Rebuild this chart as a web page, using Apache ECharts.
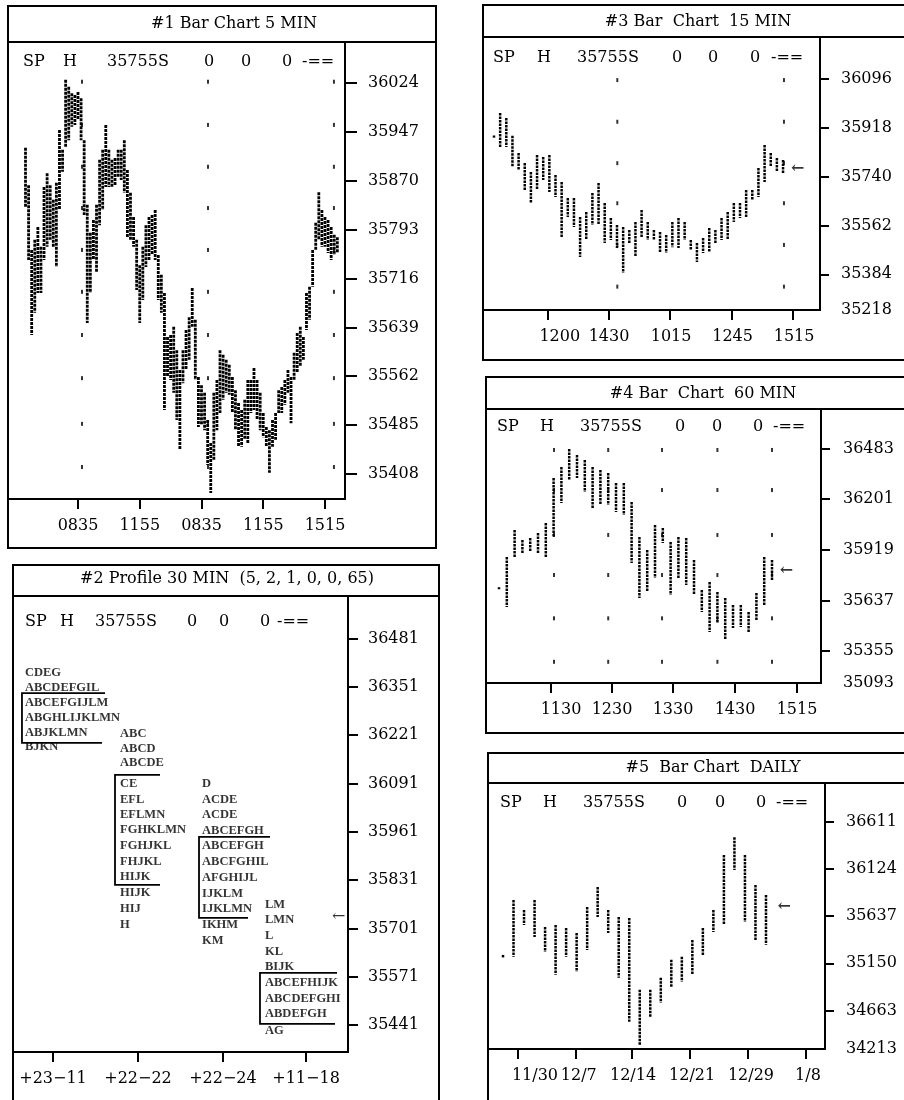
<!DOCTYPE html>
<html><head><meta charset="utf-8">
<script src="https://cdn.jsdelivr.net/npm/echarts@6.0.0/dist/echarts.min.js"></script>
<style>html,body{margin:0;padding:0;background:#fff}#c{width:904px;height:1100px}</style>
</head><body><div id="c"></div>
<script>
// ---------------- DATA ----------------
const titles = ['#1 Bar Chart 5 MIN', '#2 Profile 30 MIN  (5, 2, 1, 0, 0, 65)', '#3 Bar  Chart  15 MIN', '#4 Bar  Chart  60 MIN', '#5  Bar Chart  DAILY'];
const headerTokens = ['SP', 'H', '35755S', '0', '0', '0', '-=='];

// Panel 1: 5-min bars (each drawn bar = two 5-min bars)
const p1FirstBar = 6;
const p1High = [35922,35863,35761,35777,35797,35766,35860,35882,35863,35840,
  35867,35950,35919,36029,36018,36008,36005,36010,36000,35934,
  35832,35788,35808,35832,35903,35919,35958,35919,35903,35906,
  35919,35919,35934,35887,35851,35813,35777,35737,35766,35800,
  35813,35816,35824,35753,35722,35693,35624,35627,35640,35603,
  35572,35603,35635,35655,35701,35651,35561,35548,35536,35493,
  35457,35536,35556,35603,35596,35588,35580,35561,35540,35520,
  35509,35525,35556,35556,35575,35556,35536,35504,35482,35477,
  35493,35504,35540,35545,35556,35572,35561,35599,35630,35640,
  35624,35693,35703,35761,35804,35852,35824,35813,35808,35797,
  35785,35781];
const p1Low = [35829,35745,35627,35662,35693,35693,35745,35766,35777,35766,
  35734,35824,35884,35923,35934,35955,35958,35966,35934,35816,
  35646,35693,35745,35725,35800,35824,35860,35860,35860,35863,
  35876,35871,35851,35781,35777,35766,35698,35646,35682,35734,
  35745,35753,35745,35682,35662,35509,35561,35556,35536,35493,
  35446,35551,35572,35588,35640,35556,35482,35485,35477,35422,
  35378,35430,35477,35504,35525,35536,35533,35504,35477,35451,
  35451,35462,35457,35504,35509,35493,35477,35466,35451,35410,
  35451,35462,35504,35504,35517,35536,35488,35556,35567,35577,
  35588,35635,35651,35703,35761,35777,35766,35766,35756,35745,
  35753,35756];
const p1XTicks = [23, 43, 63, 83, 103];
const p1XLabelPos = [23, 43, 63, 83, 103];
const p1XLabels = ['0835', '1155', '0835', '1155', '1515'];
const p1YTicks = [36024, 35947, 35870, 35793, 35716, 35639, 35562, 35485, 35408];
const p1DotCols = [24.3, 65.1, 105.9];
const p1DotRows = [36026, 35958, 35892, 35827, 35761, 35695, 35627, 35559, 35487, 35419];

// Panel 2: 30-min market profile
const p2XTicks = [4.78, 14.93, 25.07, 34.99];
const p2XLabelPos = [4.78, 14.93, 25.07, 34.99];
const p2XLabels = ['+23\u221211', '+22\u221222', '+22\u221224', '+11\u221218'];
const p2YTicks = [36481, 36351, 36221, 36091, 35961, 35831, 35701, 35571, 35441];
const p2ColX = [1.43, 12.78, 22.57, 30.09];
const p2Col1 = [[36388,'CDEG'],[36348,'ABCDEFGIL'],[36307,'ABCEFGIJLM'],[36267,'ABGHLIJKLMN'],[36226,'ABJKLMN'],[36189,'BJKN']];
const p2Col2 = [[36224,'ABC'],[36183,'ABCD'],[36146,'ABCDE'],[36089,'CE'],[36046,'EFL'],[36006,'EFLMN'],[35966,'FGHKLMN'],[35923,'FGHJKL'],[35879,'FHJKL'],[35839,'HIJK'],[35796,'HIJK'],[35753,'HIJ'],[35710,'H']];
const p2Col3 = [[36089,'D'],[36046,'ACDE'],[36006,'ACDE'],[35963,'ABCEFGH'],[35923,'ABCEFGH'],[35879,'ABCFGHIL'],[35836,'AFGHIJL'],[35793,'IJKLM'],[35753,'IJKLMN'],[35710,'IKHM'],[35667,'KM']];
const p2Col4 = [[35764,'LM'],[35723,'LMN'],[35680,'L'],[35637,'KL'],[35597,'BIJK'],[35554,'ABCEFHIJK'],[35511,'ABCDEFGHI'],[35471,'ABDEFGH'],[35425,'AG']];
// value-area brackets: [xLeft, xTopRight, xBottomRight, priceTop, priceBottom]
const p2Brackets = [[1.07,10.99,10.63,36334,36200],[12.18,17.55,17.55,36114,35818],[22.21,30.69,28.06,35947,35729],[29.49,38.69,38.45,35581,35444]];
const p2Arrow = [38.09, 35732];

// Panel 3: 15-min bars
const p3High = [35890,35972,35954,35889,35826,35790,35757,35819,35812,35819,
  35746,35720,35662,35662,35593,35611,35680,35717,35644,35589,
  35564,35556,35545,35575,35618,35575,35545,35538,35527,35575,
  35589,35575,35509,35498,35516,35553,35545,35589,35611,35644,
  35644,35691,35691,35771,35855,35826,35808,35801];
const p3Low = [35882,35848,35848,35775,35764,35691,35644,35691,35728,35684,
  35666,35516,35593,35556,35447,35509,35564,35564,35498,35509,
  35480,35389,35498,35447,35520,35509,35509,35465,35462,35483,
  35480,35509,35472,35429,35462,35465,35498,35509,35509,35575,
  35589,35589,35655,35666,35720,35775,35757,35753];
const p3XTicks = [9.8, 19.6, 29.6, 39.7, 49.6];
const p3XLabelPos = [11.7, 19.7, 29.8, 39.8, 49.8];
const p3XLabels = ['1200', '1430', '1015', '1245', '1515'];
const p3YTicks = [36096, 35918, 35740, 35562, 35384];
const p3BottomLabel = '35218';
const p3DotCols = [21.05, 48.15];
const p3DotRows = [36092, 35940, 35789, 35643, 35491, 35339];
const p3Arrow = [49.3, 35770];

// Panel 4: 60-min bars
const p4High = [35710,35878,36028,35973,35984,36012,36067,36318,36379,36479,
  36446,36418,36379,36362,36346,36290,36290,36184,35989,35917,
  36056,36040,35962,35989,35984,35862,35695,35739,35684,35650,
  35611,35611,35572,35678,35878,35862];
const p4Low = [35702,35600,35873,35900,35906,35900,35878,35989,36179,36307,
  36318,36240,36151,36168,36168,36129,36112,35845,35650,35684,
  35761,35956,35667,35761,35722,35667,35572,35461,35511,35416,
  35483,35489,35455,35528,35611,35750];
const p4XTicks = [7.67, 15.49, 23.31, 31.26, 39.21];
const p4XLabelPos = [8.95, 15.49, 23.31, 31.26, 39.21];
const p4XLabels = ['1130', '1230', '1330', '1430', '1515'];
const p4YTicks = [36483, 36201, 35919, 35637, 35355];
const p4BottomLabel = '35093';
const p4DotCols = [8.05, 15.0, 21.9, 29.0, 36.0];
const p4DotRows = [36474, 36251, 36001, 35778, 35537, 35295];
const p4Arrow = [37.0, 35800];

// Panel 5: daily bars
const p5High = [35237,35804,35701,35804,35526,35546,35515,35464,35732,35938,
  35701,35629,35619,34876,34876,35000,35186,35217,35392,35515,
  35701,36268,36453,36268,35959,35856];
const p5Low = [35206,35217,35546,35423,35268,35031,35217,35062,35289,35629,
  35464,35000,34546,34309,34598,34742,34897,34959,35031,35237,
  35474,35546,36113,35577,35392,35341];
const p5XTicks = [2.43, 7.94, 13.26, 18.78, 24.29, 29.8];
const p5XLabelPos = [4.04, 8.2, 13.36, 18.98, 24.57, 29.99];
const p5XLabels = ['11/30', '12/7', '12/14', '12/21', '12/29', '1/8'];
const p5YTicks = [36611, 36124, 35637, 35150, 34663];
const p5BottomLabel = '34213';
const p5Arrow = [27.1, 35732];

// ---------------- LAYOUT ----------------
const FONT = '"DejaVu Serif", "Liberation Serif", serif';
const LETTER_FONT = '"Liberation Serif", "DejaVu Serif", serif';
const panels = [
  {box:[8,6,428,542], lineY:42, tcx:234, tcy:24, grid:[8,42,337,457], hy:62, hx:[23,63,107,204,241,282,302],
   x:[0.33,109.48], y:[35368.6,36088.6]},
  {box:[13,565,426,545], lineY:596, tcx:227, tcy:579, grid:[13,596,335,456], hy:622, hx:[25,60,95,187,219,260,277],
   x:[0,40], y:[35368.4,36595]},
  {box:[483,5,440,355], lineY:37, tcx:698, tcy:22, grid:[483,37,337,273], hy:58, hx:[493,537,577,672,708,750,771],
   x:[-0.789,54.01], y:[35253.8,36249]},
  {box:[486,377,440,356], lineY:409, tcx:703, tcy:394, grid:[486,409,335,274], hy:427, hx:[497,540,580,675,712,753,773],
   x:[-0.667,42.28], y:[35177,36702]},
  {box:[488,753,440,360], lineY:783, tcx:713, tcy:768, grid:[488,783,337,266], hy:803, hx:[500,543,583,677,715,756,776],
   x:[-0.426,31.61], y:[34265,37013]}
];

function nearestLabel(v, vals, texts) {
  for (let i = 0; i < vals.length; i++) if (Math.abs(vals[i] - v) < 1e-3) return texts[i];
  return '';
}

const graphic = [];
panels.forEach((p, i) => {
  graphic.push({type:'rect', shape:{x:p.box[0], y:p.box[1], width:p.box[2], height:p.box[3]}, style:{fill:'none', stroke:'#000', lineWidth:2}, z:100});
  graphic.push({type:'line', shape:{x1:p.box[0], y1:p.lineY, x2:p.box[0]+p.box[2], y2:p.lineY}, style:{stroke:'#000', lineWidth:2}, z:100});
  graphic.push({type:'text', x:p.tcx, y:p.tcy, style:{text:titles[i], font:'16px ' + FONT, fill:'#000', textAlign:'center', textVerticalAlign:'middle'}, z:100});
  headerTokens.forEach((t, j) => {
    graphic.push({type:'text', x:p.hx[j], y:p.hy, style:{text:t, font:'16px ' + FONT, fill:'#000', textAlign:'left', textVerticalAlign:'middle'}, z:100});
  });
});

const grids = panels.map(p => ({left:p.grid[0], top:p.grid[1], width:p.grid[2], height:p.grid[3], show:true, borderColor:'#000', borderWidth:2, backgroundColor:'transparent', containLabel:false}));

function xAxisCfg(i, ticks, labelPos, labels) {
  const p = panels[i];
  return {type:'value', gridIndex:i, position:'bottom', min:p.x[0], max:p.x[1], splitLine:{show:false},
    axisLine:{show:false, onZero:false},
    axisTick:{show:true, inside:false, length:10, lineStyle:{color:'#000', width:2}, customValues:ticks},
    axisLabel:{show:true, margin:19, color:'#000', fontFamily:FONT, fontSize:16, customValues:labelPos, showMinLabel:true, showMaxLabel:true,
      formatter:v => nearestLabel(v, labelPos, labels)}};
}
function yAxisCfg(i, ticks, bottomLabel, tickLen, margin) {
  const p = panels[i];
  const vals = ticks.slice(); const texts = ticks.map(String);
  if (bottomLabel) { vals.push(p.y[0]); texts.push(bottomLabel); }
  return {type:'value', gridIndex:i, position:'right', min:p.y[0], max:p.y[1], splitLine:{show:false},
    axisLine:{show:true, onZero:false, lineStyle:{color:'#000', width:2}},
    axisTick:{show:true, inside:false, length:tickLen, lineStyle:{color:'#000', width:2}, customValues:ticks},
    axisLabel:{show:true, margin:margin, color:'#000', fontFamily:FONT, fontSize:16, customValues:vals, showMinLabel:true, showMaxLabel:true,
      formatter:v => nearestLabel(v, vals, texts)}};
}

function hlSeries(i, first, hi, lo, w, dash) {
  const data = hi.map((h, k) => [first + k, h, lo[k]]);
  return {type:'custom', xAxisIndex:i, yAxisIndex:i, data, encode:{x:0, y:[1,2]}, z:3, silent:true,
    renderItem(params, api) {
      const a = api.coord([api.value(0), api.value(1)]);
      const b = api.coord([api.value(0), api.value(2)]);
      let y2 = b[1]; if (y2 - a[1] < 2) y2 = a[1] + 2;
      return {type:'line', shape:{x1:a[0], y1:a[1], x2:b[0], y2:y2}, style:{stroke:'#000', lineWidth:w, lineDash:dash}};
    }};
}
function dotSeries(i, cols, rows) {
  const data = [];
  cols.forEach(c => rows.forEach(r => data.push([c, r])));
  return {type:'scatter', xAxisIndex:i, yAxisIndex:i, data, symbol:'rect', symbolSize:[2,4], itemStyle:{color:'#000'}, z:2, silent:true};
}
function arrowSeries(i, pt, bold) {
  return {type:'scatter', xAxisIndex:i, yAxisIndex:i, data:[pt], symbolSize:0, z:4, silent:true,
    label:{show:true, position:'right', distance:0, formatter:'\u2190', color:'#000', fontFamily:FONT, fontSize:16, fontWeight:bold ? 'bold' : 'normal'}};
}
function textSeries(i, x, rows) {
  return {type:'scatter', xAxisIndex:i, yAxisIndex:i, symbolSize:0, z:4, silent:true,
    data: rows.map(r => ({value:[x, r[0]], name:r[1]})),
    label:{show:true, position:'right', distance:0, formatter:'{b}', color:'#000', fontFamily:LETTER_FONT, fontSize:12.5, fontWeight:'bold'}};
}

const series = [
  dotSeries(0, p1DotCols, p1DotRows),
  hlSeries(0, p1FirstBar, p1High, p1Low, 2.8, [3,1]),
  textSeries(1, p2ColX[0], p2Col1),
  textSeries(1, p2ColX[1], p2Col2),
  textSeries(1, p2ColX[2], p2Col3),
  textSeries(1, p2ColX[3], p2Col4),
  {type:'custom', xAxisIndex:1, yAxisIndex:1, data:p2Brackets, encode:{x:[0,1,2], y:[3,4]}, z:3, silent:true,
    renderItem(params, api) {
      const tl = api.coord([api.value(0), api.value(3)]);
      const tr = api.coord([api.value(1), api.value(3)]);
      const bl = api.coord([api.value(0), api.value(4)]);
      const br = api.coord([api.value(2), api.value(4)]);
      return {type:'polyline', shape:{points:[tr, tl, bl, br]}, style:{stroke:'#000', lineWidth:1.8, fill:null}};
    }},
  arrowSeries(1, p2Arrow, false),
  dotSeries(2, p3DotCols, p3DotRows),
  hlSeries(2, 1, p3High, p3Low, 2.5, [2.5,1]),
  arrowSeries(2, p3Arrow, true),
  dotSeries(3, p4DotCols, p4DotRows),
  hlSeries(3, 1, p4High, p4Low, 2.5, [2.5,1]),
  arrowSeries(3, p4Arrow, true),
  hlSeries(4, 1, p5High, p5Low, 2.5, [2.5,1]),
  arrowSeries(4, p5Arrow, true)
];

const option = {
  animation:false,
  backgroundColor:'#fff',
  grid:grids,
  xAxis:[xAxisCfg(0, p1XTicks, p1XLabelPos, p1XLabels), xAxisCfg(1, p2XTicks, p2XLabelPos, p2XLabels), xAxisCfg(2, p3XTicks, p3XLabelPos, p3XLabels), xAxisCfg(3, p4XTicks, p4XLabelPos, p4XLabels), xAxisCfg(4, p5XTicks, p5XLabelPos, p5XLabels)],
  yAxis:[yAxisCfg(0, p1YTicks, null, 12, 23), yAxisCfg(1, p2YTicks, null, 10, 20), yAxisCfg(2, p3YTicks, p3BottomLabel, 9, 21), yAxisCfg(3, p4YTicks, p4BottomLabel, 9, 22), yAxisCfg(4, p5YTicks, p5BottomLabel, 9, 21)],
  graphic:graphic,
  series:series
};
const chart = echarts.init(document.getElementById('c'), null, {renderer:'canvas', width:904, height:1100});
chart.setOption(option);
</script></body></html>
